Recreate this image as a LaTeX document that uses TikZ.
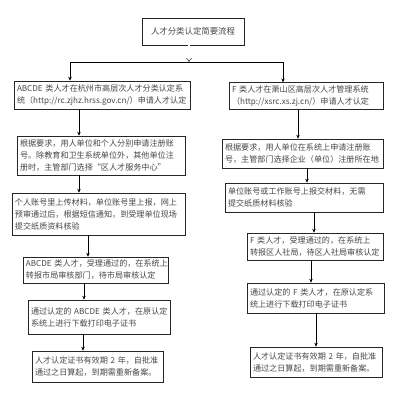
\documentclass[tikz,border=0pt]{standalone}
\usepackage{fontspec}
\setmainfont{Noto Sans CJK SC}
\usetikzlibrary{arrows.meta,shadows}
\begin{document}
\begin{tikzpicture}[x=1pt,y=-1pt,
  box/.style={draw=black!85,line width=0.5pt,fill=white,
    drop shadow={shadow xshift=1pt,shadow yshift=-1pt,fill=black!55,opacity=1},
    inner sep=3pt,align=left,font=\fontsize{8.1}{12}\selectfont,text=black!72},
  arr/.style={line width=0.6pt,-{Stealth[length=4pt,width=3.4pt]}},
  ln/.style={line width=0.6pt}]
\useasboundingbox (0,0) rectangle (400,405);
% helper: box from corners
\newcommand{\mybox}[6]{%
  \node[box,minimum width={#4-#2},minimum height={#5-#3},text width={#4-#2-6}] (#1) at ({(#2+#4)/2},{(#3+#5)/2}) {#6};}
\node[box,minimum width=102,minimum height=27,align=center,font=\fontsize{8.4}{12}\selectfont] (T) at (193,31.5) {人才分类认定简要流程};
\mybox{L1}{14}{81}{190}{109}{ABCDE~类人才在杭州市高层次人才分类认定系\\统（http://rc.zjhz.hrss.gov.cn/）申请人才认定}
\mybox{R1}{229}{83}{383}{109}{F~类人才在萧山区高层次人才管理系统\\（http://xsrc.xs.zj.cn/）申请人才认定}
\mybox{L2}{17}{136}{185}{175}{根据要求，用人单位和个人分别申请注册账\\号。除教育和卫生系统单位外，其他单位注\\册时，主管部门选择“区人才服务中心”}
\mybox{R2}{222}{139}{383}{168}{根据要求，用人单位在系统上申请注册账\\号，主管部门选择企业（单位）注册所在地}
\mybox{L3}{12}{193}{185}{235}{个人账号里上传材料，单位账号里上报，网上\\预审通过后，根据短信通知，到受理单位现场\\提交纸质资料核验}
\mybox{R3}{225}{183}{383}{212}{单位账号或工作账号上报交材料，无需\\提交纸质材料核验}
\mybox{L4}{23}{257}{168}{283}{ABCDE~类人才，受理通过的，在系统上\\转报市局审核部门，待市局审核认定}
\mybox{R4}{247}{233}{383}{260}{F~类人才，受理通过的，在系统上\\转报区人社局，待区人社局审核认定}
\mybox{L5}{28}{300}{170}{334}{通过认定的~ABCDE~类人才，在原认定\\系统上进行下载打印电子证书}
\mybox{R5}{247}{283}{384}{313}{通过认定的~F~类人才，在原认定系\\统上进行下载打印电子证书}
\mybox{L6}{32}{351}{163}{382}{人才认定证书有效期~2~年，自批准\\通过之日算起，到期需重新备案。}
\mybox{R6}{250}{347}{382}{377}{人才认定证书有效期~2~年，自批准\\通过之日算起，到期需重新备案。}
% split
\coordinate (sp) at (189,62);
\coordinate (sl) at (70,62);
\coordinate (sr) at (283,62);
\draw[line width=0.4pt,double distance=1.6pt,-{Implies[length=3pt]}] (T.south -| sp) -- (sp);
\draw[ln] (sl) -- (sr);
\draw[arr] (sl) -- (L1.north -| sl);
\draw[arr] (sr) -- (R1.north -| sr);
% left chain
\draw[arr] (L1.south -| 79,0) -- (L2.north -| 79,0);
\draw[arr] (L2.south -| 79,0) -- (L3.north -| 79,0);
\draw[arr] (L3.south -| 88,0) -- (L4.north -| 88,0);
\draw[arr] (L4.south -| 84,0) -- (L5.north -| 84,0);
\draw[arr] (L5.south -| 83,0) -- (L6.north -| 83,0);
% right chain
\draw[arr] (R1.south -| 298,0) -- (R2.north -| 298,0);
\draw[arr] (R2.south -| 307,0) -- (R3.north -| 307,0);
\draw[arr] (R3.south -| 314,0) -- (R4.north -| 314,0);
\draw[arr] (R4.south -| 311,0) -- (R5.north -| 311,0);
\draw[arr] (R5.south -| 316,0) -- (R6.north -| 316,0);
\end{tikzpicture}
\end{document}
